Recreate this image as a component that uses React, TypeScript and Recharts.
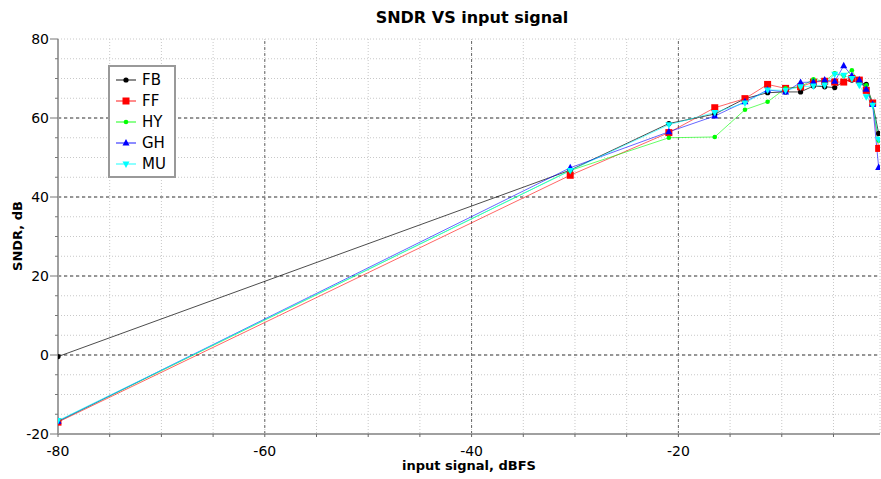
import { LineChart, Line, XAxis, YAxis, CartesianGrid, ReferenceLine } from 'recharts'

const inputLevels = [-80, -30.46, -20.92, -16.48, -13.56, -11.37, -9.63, -8.18, -6.94, -5.85, -4.88, -4.01, -3.22, -2.5, -1.83, -1.21, -0.63]

const sndrFB = [-0.4, 46.8, 58.6, 61.0, 64.9, 66.4, 66.6, 66.6, 68.1, 67.9, 67.7, 69.3, 69.6, 69.1, 68.5, 63.7, 56.1]
const sndrFF = [-17.0, 45.5, 56.3, 62.6, 64.9, 68.5, 67.5, 67.9, 69.1, 69.3, 69.1, 69.1, 70.0, 69.6, 67.0, 63.8, 52.3]
const sndrHY = [-16.8, 46.7, 55.0, 55.2, 62.1, 64.1, 67.5, 67.9, 69.8, 69.3, 71.3, 70.7, 72.1, 68.7, 68.3, 63.4, 54.3]
const sndrGH = [-16.8, 47.4, 56.5, 60.5, 64.1, 67.1, 66.6, 69.0, 69.1, 69.6, 69.3, 73.2, 70.7, 69.6, 67.3, 63.4, 47.5]
const sndrMU = [-16.6, 46.7, 58.3, 61.4, 63.8, 67.1, 67.0, 67.9, 68.1, 68.3, 71.1, 70.8, 70.0, 68.3, 65.4, 63.2, 54.6]

const xTicks = [-80, -75, -70, -65, -60, -55, -50, -45, -40, -35, -30, -25, -20, -15, -10, -5]
const yTicks = [-20, -15, -10, -5, 0, 5, 10, 15, 20, 25, 30, 35, 40, 45, 50, 55, 60, 65, 70, 75, 80]
const xMajor = [-60, -40, -20]
const yMajor = [0, 20, 40, 60]

const data = inputLevels.map((x, i) => ({
  x,
  FB: sndrFB[i],
  FF: sndrFF[i],
  HY: sndrHY[i],
  GH: sndrGH[i],
  MU: sndrMU[i],
}))

const series = [
  { key: 'FB', color: '#000000', shape: 'circle' },
  { key: 'FF', color: '#ff0000', shape: 'square' },
  { key: 'HY', color: '#00ff00', shape: 'dot' },
  { key: 'GH', color: '#0000ff', shape: 'triangle' },
  { key: 'MU', color: '#00ffff', shape: 'down' },
]

const font = '"DejaVu Sans", sans-serif'

const Marker = ({ cx, cy, shape, color }: any) => {
  if (shape === 'square') return <rect x={cx - 3.5} y={cy - 3.5} width={7} height={7} fill={color} />
  if (shape === 'triangle') return <polygon points={`${cx},${cy - 4} ${cx + 3.5},${cy + 2.5} ${cx - 3.5},${cy + 2.5}`} fill={color} />
  if (shape === 'down') return <polygon points={`${cx},${cy + 4} ${cx + 3.5},${cy - 2.5} ${cx - 3.5},${cy - 2.5}`} fill={color} />
  if (shape === 'dot') return <circle cx={cx} cy={cy} r={2.3} fill={color} />
  return <circle cx={cx} cy={cy} r={2.6} fill={color} />
}

const makeDot = (shape: string, color: string) => (props: any) => (
  <Marker key={props.index} cx={props.cx} cy={props.cy} shape={shape} color={color} />
)

const XTick = ({ x, y, payload }: any) => {
  const v = payload.value
  return (
    <g>
      <line x1={x} y1={y} x2={x} y2={y + 3} stroke="#666" strokeWidth={1} />
      {v % 20 === 0 && (
        <text x={x} y={y + 22} textAnchor="middle" fontSize={14} fill="#000" fontFamily={font}>
          {v}
        </text>
      )}
    </g>
  )
}

const YTick = ({ x, y, payload }: any) => {
  const v = payload.value
  const major = v % 20 === 0
  return (
    <g>
      <line x1={x} y1={y} x2={x - (major ? 8 : 3)} y2={y} stroke="#777" strokeWidth={1} />
      {major && (
        <text x={x - 9} y={y + 5} textAnchor="end" fontSize={14} fill="#000" fontFamily={font}>
          {v}
        </text>
      )}
    </g>
  )
}

const LegendBox = () => (
  <div
    style={{
      position: 'absolute',
      left: 108,
      top: 65,
      border: '2px solid #999',
      background: '#fff',
      width: 64,
      padding: '2px 0 2px 0',
      fontFamily: font,
      fontSize: 15,
    }}
  >
    {series.map((s) => (
      <div key={s.key} style={{ display: 'flex', alignItems: 'center', height: 21 }}>
        <svg width={27} height={14} style={{ marginLeft: 5 }}>
          <line x1={1} y1={7} x2={21} y2={7} stroke={s.color} strokeOpacity={0.45} strokeWidth={2} />
          <Marker cx={11} cy={7} shape={s.shape} color={s.color} />
        </svg>
        <span style={{ color: '#000' }}>{s.key}</span>
      </div>
    ))}
  </div>
)

export default function App() {
  return (
    <div style={{ position: 'absolute', left: 0, top: 0, width: 881, height: 479, background: '#fff' }}>
      <div
        style={{
          position: 'absolute',
          left: 0,
          width: 944,
          top: 8,
          textAlign: 'center',
          fontFamily: font,
          fontWeight: 'bold',
          fontSize: 16,
        }}
      >
        SNDR VS input signal
      </div>
      <div
        style={{
          position: 'absolute',
          left: 0,
          width: 938,
          top: 458,
          textAlign: 'center',
          fontFamily: font,
          fontWeight: 'bold',
          fontSize: 13,
        }}
      >
        input signal, dBFS
      </div>
      <div
        style={{
          position: 'absolute',
          left: 17,
          top: 236,
          transform: 'translate(-50%, -50%) rotate(-90deg)',
          fontFamily: font,
          fontWeight: 'bold',
          fontSize: 13,
          whiteSpace: 'nowrap',
        }}
      >
        SNDR, dB
      </div>
      <LineChart width={881} height={479} data={data} margin={{ top: 39, right: 1, left: 0, bottom: 0 }}>
        <CartesianGrid stroke="#c8c8c8" strokeDasharray="1 2" />
        {xMajor.map((v) => (
          <ReferenceLine key={'x' + v} x={v} stroke="#666" strokeDasharray="3 3" />
        ))}
        {yMajor.map((v) => (
          <ReferenceLine key={'y' + v} y={v} stroke="#777" strokeWidth={1.5} strokeDasharray="3 3" />
        ))}
        <XAxis
          type="number"
          dataKey="x"
          domain={[-80, -0.5]}
          ticks={xTicks}
          interval={0}
          tickSize={0}
          tickMargin={0}
          tick={<XTick />}
          height={45}
          stroke="#a0a0a0"
          strokeWidth={2}
          allowDataOverflow
        />
        <YAxis
          type="number"
          domain={[-20, 80]}
          ticks={yTicks}
          interval={0}
          tickSize={0}
          tickMargin={0}
          tick={<YTick />}
          width={58}
          stroke="#a0a0a0"
          strokeWidth={2}
          allowDataOverflow
        />
        {series.map((s) => (
          <Line
            key={s.key}
            type="linear"
            dataKey={s.key}
            stroke={s.color}
            strokeOpacity={s.key === 'FB' ? 0.7 : 0.6}
            strokeWidth={1}
            dot={makeDot(s.shape, s.color)}
            activeDot={false}
            isAnimationActive={false}
          />
        ))}
      </LineChart>
      <LegendBox />
    </div>
  )
}
